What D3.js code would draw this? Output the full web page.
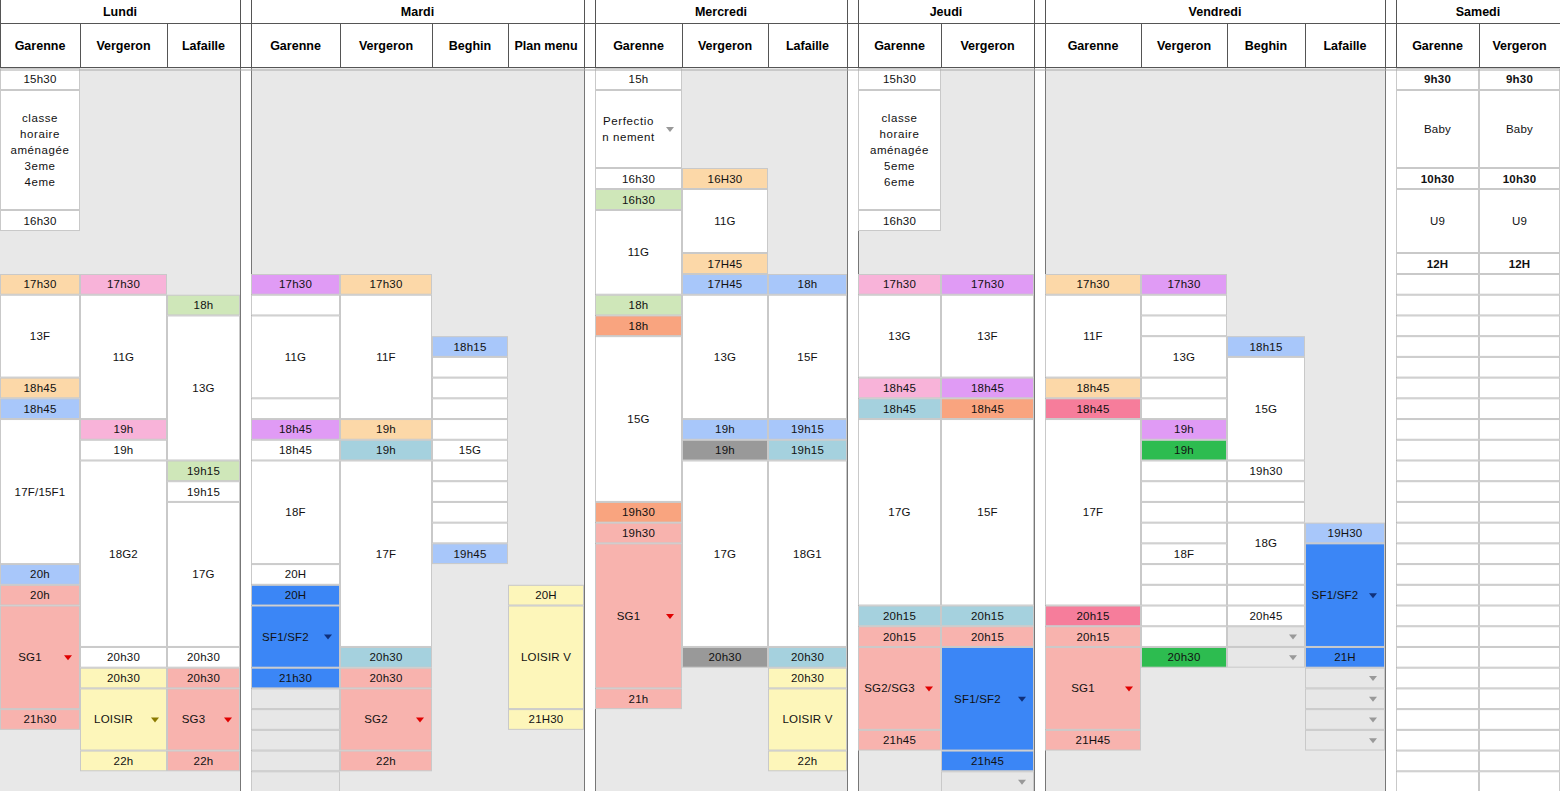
<!DOCTYPE html>
<html><head><meta charset="utf-8">
<script src="https://cdn.jsdelivr.net/npm/d3@7"></script>
<style>body{margin:0;background:#fff}svg{display:block;font-family:"Liberation Sans",Arial,sans-serif}</style>
</head><body><svg id="c" width="1560" height="791"></svg>
<script>
// ---- DATA ----
const days = ["Lundi","Mardi","Mercredi","Jeudi","Vendredi","Samedi"];
const venues = [
 ["Lundi","Garenne"],["Lundi","Vergeron"],["Lundi","Lafaille"],[null,""],
 ["Mardi","Garenne"],["Mardi","Vergeron"],["Mardi","Beghin"],["Mardi","Plan menu"],[null,""],
 ["Mercredi","Garenne"],["Mercredi","Vergeron"],["Mercredi","Lafaille"],[null,""],
 ["Jeudi","Garenne"],["Jeudi","Vergeron"],[null,""],
 ["Vendredi","Garenne"],["Vendredi","Vergeron"],["Vendredi","Beghin"],["Vendredi","Lafaille"],[null,""],
 ["Samedi","Garenne"],["Samedi","Vergeron"]];
// upper slots u0..u6, then lower rows 0..24
const upperSlots = ["u0","u1","u2","u3","u4","u5","u6"];
const lowerRowCount = 25;
// cells: [column, fromRow, toRow, text, colour, dropdown]
const cells = [
 // Lundi Garenne
 [0,"u0","u0","15h30","W"],[0,"u1","u3","classe\nhoraire\naménagée\n3eme\n4eme","W"],[0,"u4","u4","16h30","W"],
 [0,0,0,"17h30","pe"],[0,1,4,"13F","W"],[0,5,5,"18h45","pe"],[0,6,6,"18h45","lb"],[0,7,13,"17F/15F1","W"],
 [0,14,14,"20h","lb"],[0,15,15,"20h","sa"],[0,16,20,"SG1","sa","r"],[0,21,21,"21h30","sa"],
 // Lundi Vergeron
 [1,0,0,"17h30","pk"],[1,1,6,"11G","W"],[1,7,7,"19h","pk"],[1,8,8,"19h","W"],[1,9,17,"18G2","W"],
 [1,18,18,"20h30","W"],[1,19,19,"20h30","ye"],[1,20,22,"LOISIR","ye","y"],[1,23,23,"22h","ye"],
 // Lundi Lafaille
 [2,1,1,"18h","lg"],[2,2,8,"13G","W"],[2,9,9,"19h15","lg"],[2,10,10,"19h15","W"],[2,11,17,"17G","W"],
 [2,18,18,"20h30","W"],[2,19,19,"20h30","sa"],[2,20,22,"SG3","sa","r"],[2,23,23,"22h","sa"],
 // Mardi Garenne
 [4,0,0,"17h30","vi"],[4,1,1,"","W"],[4,2,5,"11G","W"],[4,6,6,"","W"],[4,7,7,"18h45","vi"],[4,8,8,"18h45","W"],
 [4,9,13,"18F","W"],[4,14,14,"20H","W"],[4,15,15,"20H","bl"],[4,16,18,"SF1/SF2","bl","b"],[4,19,19,"21h30","bl"],
 [4,20,20,"","G"],[4,21,21,"","G"],[4,22,22,"","G"],[4,23,23,"","G"],[4,24,24,"","G"],
 // Mardi Vergeron
 [5,0,0,"17h30","pe"],[5,1,6,"11F","W"],[5,7,7,"19h","pe"],[5,8,8,"19h","te"],[5,9,17,"17F","W"],
 [5,18,18,"20h30","te"],[5,19,19,"20h30","sa"],[5,20,22,"SG2","sa","r"],[5,23,23,"22h","sa"],
 // Mardi Beghin
 [6,3,3,"18h15","lb"],[6,4,4,"","W"],[6,5,5,"","W"],[6,6,6,"","W"],[6,7,7,"","W"],[6,8,8,"15G","W"],
 [6,9,9,"","W"],[6,10,10,"","W"],[6,11,11,"","W"],[6,12,12,"","W"],[6,13,13,"19h45","lb"],
 // Mardi Plan menu
 [7,15,15,"20H","ye"],[7,16,20,"LOISIR V","ye"],[7,21,21,"21H30","ye"],
 // Mercredi Garenne
 [9,"u0","u0","15h","W"],[9,"u1","u1","Perfectio\nn nement","W","g"],[9,"u2","u2","16h30","W"],[9,"u3","u3","16h30","lg"],
 [9,"u4",0,"11G","W"],[9,1,1,"18h","lg"],[9,2,2,"18h","or"],[9,3,10,"15G","W"],[9,11,11,"19h30","or"],
 [9,12,12,"19h30","sa"],[9,13,19,"SG1","sa","r"],[9,20,20,"21h","sa"],
 // Mercredi Vergeron
 [10,"u2","u2","16H30","pe"],[10,"u3","u5","11G","W"],[10,"u6","u6","17H45","pe"],[10,0,0,"17H45","lb"],
 [10,1,6,"13G","W"],[10,7,7,"19h","lb"],[10,8,8,"19h","gr"],[10,9,17,"17G","W"],[10,18,18,"20h30","gr"],
 // Mercredi Lafaille
 [11,0,0,"18h","lb"],[11,1,6,"15F","W"],[11,7,7,"19h15","lb"],[11,8,8,"19h15","te"],[11,9,17,"18G1","W"],
 [11,18,18,"20h30","te"],[11,19,19,"20h30","ye"],[11,20,22,"LOISIR V","ye"],[11,23,23,"22h","ye"],
 // Jeudi Garenne
 [13,"u0","u0","15h30","W"],[13,"u1","u3","classe\nhoraire\naménagée\n5eme\n6eme","W"],[13,"u4","u4","16h30","W"],
 [13,0,0,"17h30","pk"],[13,1,4,"13G","W"],[13,5,5,"18h45","pk"],[13,6,6,"18h45","te"],[13,7,15,"17G","W"],
 [13,16,16,"20h15","te"],[13,17,17,"20h15","sa"],[13,18,21,"SG2/SG3","sa","r"],[13,22,22,"21h45","sa"],
 // Jeudi Vergeron
 [14,0,0,"17h30","vi"],[14,1,4,"13F","W"],[14,5,5,"18h45","vi"],[14,6,6,"18h45","or"],[14,7,15,"15F","W"],
 [14,16,16,"20h15","te"],[14,17,17,"20h15","sa"],[14,18,22,"SF1/SF2","bl","b"],[14,23,23,"21h45","bl"],[14,24,24,"","G","g"],
 // Vendredi Garenne
 [16,0,0,"17h30","pe"],[16,1,4,"11F","W"],[16,5,5,"18h45","pe"],[16,6,6,"18h45","hp"],[16,7,15,"17F","W"],
 [16,16,16,"20h15","hp"],[16,17,17,"20h15","sa"],[16,18,21,"SG1","sa","r"],[16,22,22,"21H45","sa"],
 // Vendredi Vergeron
 [17,0,0,"17h30","vi"],[17,1,1,"","W"],[17,2,2,"","W"],[17,3,4,"13G","W"],[17,5,5,"","W"],[17,6,6,"","W"],
 [17,7,7,"19h","vi"],[17,8,8,"19h","gn"],[17,9,9,"","W"],[17,10,10,"","W"],[17,11,11,"","W"],[17,12,12,"","W"],
 [17,13,13,"18F","W"],[17,14,14,"","W"],[17,15,15,"","W"],[17,16,16,"","W"],[17,17,17,"","W"],[17,18,18,"20h30","gn"],
 // Vendredi Beghin
 [18,3,3,"18h15","lb"],[18,4,8,"15G","W"],[18,9,9,"19h30","W"],[18,10,10,"","W"],[18,11,11,"","W"],
 [18,12,13,"18G","W"],[18,14,14,"","W"],[18,15,15,"","W"],[18,16,16,"20h45","W"],[18,17,17,"","G","g"],[18,18,18,"","G","g"],
 // Vendredi Lafaille
 [19,12,12,"19H30","lb"],[19,13,17,"SF1/SF2","bl","b"],[19,18,18,"21H","bl"],
 [19,19,19,"","G","g"],[19,20,20,"","G","g"],[19,21,21,"","G","g"],[19,22,22,"","G","g"],
];
const saturday = [["u0","u0","9h30",1],["u1","u1","Baby",0],["u2","u2","10h30",1],["u3","u5","U9",0],["u6","u6","12H",1]];
[21,22].forEach(c=>{saturday.forEach(s=>cells.push([c,s[0],s[1],s[2],"W",null,s[3]]));
  for(let j=0;j<lowerRowCount;j++)cells.push([c,j,j,"","W"]);});

// ---- LAYOUT / STYLE ----
const colEdges=[0,80,167,240,251,340,432,508,584,595,682,768,847,858,941,1034,1045,1141,1227,1305,1385,1396,1479,1560];
const rowEdgesUpper=[68,90,168,189,210,231,253,274];
const colours={W:"#ffffff",G:"#e7e7e7",pe:"#fcd8a8",pk:"#f8b3d9",lg:"#cfe7b9",lb:"#a8c7fa",sa:"#f8b3ae",ye:"#fdf6ba",
 vi:"#e09bf5",bl:"#3b86f6",te:"#a5d1de",or:"#f9a47f",gr:"#999999",hp:"#f67d9b",gn:"#2dbc50"};
const ddCol={r:"#e00000",y:"#8a7a00",b:"#10307a",g:"#999"};

const rowIdx=r=>typeof r==="string"?upperSlots.indexOf(r):7+r;
const y=d3.scaleLinear().domain([0,1,2,3,4,5,6,7,7+lowerRowCount]).range(rowEdgesUpper.concat([792]));
const x=d3.scaleLinear().domain(d3.range(colEdges.length)).range(colEdges);

const svg=d3.select("#c");
// body background
venues.forEach((v,i)=>{
  svg.append("rect").attr("x",x(i)).attr("y",y(0)).attr("width",x(i+1)-x(i)).attr("height",791-y(0))
   .attr("fill",v[0]?"#e8e8e8":"#fff");
});
// gap column lines
venues.forEach((v,i)=>{ if(!v[0]) [i,i+1].forEach(k=>svg.append("line").attr("x1",x(k)+.5).attr("x2",x(k)+.5).attr("y1",0).attr("y2",791).attr("stroke","#777"));});
// cells
const g=svg.append("g");
cells.forEach(c=>{
  const [col,a,b,text,clr,dd,bold]=c;
  const x0=x(col),x1=x(col+1),y0=y(rowIdx(a)),y1=y(rowIdx(b)+1);
  g.append("rect").attr("x",x0+.5).attr("y",y0+.5).attr("width",x1-x0-1).attr("height",y1-y0-1)
   .attr("fill",colours[clr]).attr("stroke","#c9c9c9").attr("stroke-width",1);
  if(text){
    const lines=text.split("\n"),lh=16,cx=dd?(x0+x1)/2-10:(x0+x1)/2,cy=(y0+y1)/2;
    const t=g.append("text").attr("text-anchor","middle").attr("font-size",11.5).attr("fill","#111")
      .attr("font-weight",bold?"bold":"normal").attr("letter-spacing",lines.length>1?0.6:0.2);
    lines.forEach((l,i)=>t.append("tspan").attr("x",cx).attr("y",cy+(i-(lines.length-1)/2)*lh+4).text(l));
  }
  if(dd){
    const tx=x1-12,ty=(y0+y1)/2;
    g.append("path").attr("d",`M${tx-4},${ty-2}L${tx+4},${ty-2}L${tx},${ty+3}Z`).attr("fill",ddCol[dd]);
  }
});
// header
const H=svg.append("g");
H.append("rect").attr("x",0).attr("y",0).attr("width",1560).attr("height",68).attr("fill","#fff");
days.forEach(d=>{
  const idx=venues.map((v,i)=>v[0]===d?i:-1).filter(i=>i>=0);
  const x0=x(d3.min(idx)),x1=x(d3.max(idx)+1);
  H.append("text").attr("x",(x0+x1)/2).attr("y",16).attr("text-anchor","middle").attr("font-weight","bold").attr("font-size",12.5).text(d);
});
venues.forEach((v,i)=>{
  H.append("text").attr("x",(x(i)+x(i+1))/2).attr("y",50).attr("text-anchor","middle").attr("font-weight","bold").attr("font-size",12.5).text(v[1]);
  H.append("line").attr("x1",x(i)+.5).attr("x2",x(i)+.5).attr("y1",v[0]&&venues[i-1]&&venues[i-1][0]===v[0]?23:0).attr("y2",68).attr("stroke","#555");
});
[23.5,67.5].forEach(yy=>H.append("line").attr("x1",0).attr("x2",1560).attr("y1",yy).attr("y2",yy).attr("stroke","#555"));
H.append("line").attr("x1",0).attr("x2",1560).attr("y1",70).attr("y2",70).attr("stroke","#aaa");
</script></body></html>
